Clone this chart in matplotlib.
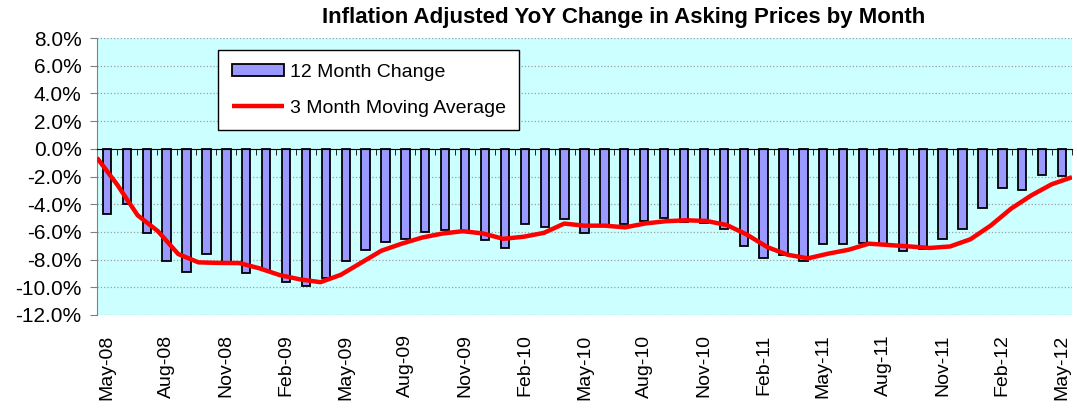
import numpy as np
import matplotlib
matplotlib.use("Agg")
import matplotlib.pyplot as plt
from matplotlib.ticker import FuncFormatter, MultipleLocator

plt.rcParams['font.family'] = ['Liberation Sans', 'DejaVu Sans']

# month labels, May-08 .. May-12
months = ['May-08', 'Jun-08', 'Jul-08', 'Aug-08', 'Sep-08', 'Oct-08', 'Nov-08', 'Dec-08',
          'Jan-09', 'Feb-09', 'Mar-09', 'Apr-09', 'May-09', 'Jun-09', 'Jul-09', 'Aug-09',
          'Sep-09', 'Oct-09', 'Nov-09', 'Dec-09', 'Jan-10', 'Feb-10', 'Mar-10', 'Apr-10',
          'May-10', 'Jun-10', 'Jul-10', 'Aug-10', 'Sep-10', 'Oct-10', 'Nov-10', 'Dec-10',
          'Jan-11', 'Feb-11', 'Mar-11', 'Apr-11', 'May-11', 'Jun-11', 'Jul-11', 'Aug-11',
          'Sep-11', 'Oct-11', 'Nov-11', 'Dec-11', 'Jan-12', 'Feb-12', 'Mar-12', 'Apr-12',
          'May-12']

# 12 month change (%)
change_12m = [-4.73, -3.98, -6.11, -8.12, -8.92, -7.59, -8.20, -8.97, -8.73, -9.65, -9.92, -9.33,
              -8.07, -7.30, -6.72, -6.52, -5.99, -5.84, -5.94, -6.55, -7.15, -5.45, -5.62, -5.09,
              -6.06, -5.50, -5.45, -5.21, -5.02, -5.25, -5.36, -5.82, -7.00, -7.90, -7.70, -8.12,
              -6.88, -6.88, -6.80, -6.84, -7.39, -7.25, -6.52, -5.82, -4.29, -2.84, -2.96, -1.87,
              -1.99]

# 3 month moving average (%)
ma_3m = [-0.65, -2.60, -4.80, -5.95, -7.60, -8.20, -8.24, -8.25, -8.63, -9.12, -9.43, -9.63,
         -9.10, -8.23, -7.36, -6.85, -6.41, -6.12, -5.95, -6.11, -6.50, -6.35, -6.07, -5.40,
         -5.55, -5.55, -5.67, -5.39, -5.23, -5.16, -5.21, -5.50, -6.20, -7.10, -7.65, -7.91,
         -7.57, -7.29, -6.85, -6.95, -7.05, -7.16, -7.05, -6.53, -5.54, -4.32, -3.36, -2.56,
         -2.05]


def main():
    fig = plt.figure(figsize=(10.77, 4.08), dpi=100)
    ax = fig.add_axes([97 / 1077, 1 - 315 / 408, 975 / 1077, 277 / 408])
    ax.set_facecolor('#CCFFFF')

    x = np.arange(len(months))
    ax.bar(x, change_12m, width=0.42, color='#9999FF', edgecolor='black',
           linewidth=1.3, label='12 Month Change', zorder=3)
    ax.set_xlim(-0.5, len(months) - 0.5)
    ax.set_ylim(-12, 8)

    ax.yaxis.set_major_locator(MultipleLocator(2))
    ax.yaxis.set_major_formatter(FuncFormatter(lambda v, p: f"{v:.1f}%"))
    ax.yaxis.grid(True, linestyle=':', color='#A0A0A0', linewidth=0.9)
    ax.set_axisbelow(True)
    ax.tick_params(axis='y', labelsize=15, length=5, color='#808080', pad=6)

    for s in ['top', 'right']:
        ax.spines[s].set_visible(False)
    ax.spines['left'].set_color('#808080')
    # category axis crosses at zero
    ax.spines['bottom'].set_position(('data', 0))
    ax.spines['bottom'].set_color('black')
    ax.spines['bottom'].set_zorder(4)
    ax.set_xticks([])
    ax.set_xticks(np.arange(-0.5, len(months)), minor=True)
    ax.tick_params(axis='x', which='minor', length=4, color='black', direction='out')

    sec = ax.secondary_xaxis('bottom')
    sec.set_xticks(x[::3])
    sec.set_xticklabels(months[::3], rotation=90, fontsize=14)
    sec.tick_params(length=0, pad=14)
    sec.spines['bottom'].set_visible(False)

    # moving average on its own category axis (points on tick marks)
    ax_l = ax.twiny()
    ax_l.plot(x, ma_3m, color='#FF0000', linewidth=3.2, label='3 Month Moving Average',
              solid_joinstyle='round', solid_capstyle='butt')
    ax_l.set_xlim(0, len(months) - 1)
    ax_l.set_axis_off()

    h1, l1 = ax.get_legend_handles_labels()
    h2, l2 = ax_l.get_legend_handles_labels()
    leg = ax_l.legend(h1 + h2, l1 + l2, loc='upper left', bbox_to_anchor=(0.124, 0.955),
                      fontsize=14, frameon=True, fancybox=False, edgecolor='black',
                      framealpha=1, handlelength=2.7, handleheight=0.6, borderpad=0.7,
                      labelspacing=0.95, handletextpad=0.3, borderaxespad=0)
    leg.get_frame().set_linewidth(1)

    fig.text(624 / 1077, 1 - 7 / 408, 'Inflation Adjusted YoY Change in Asking Prices by Month',
             ha='center', va='top', fontsize=16, fontweight='bold')

    fig.savefig('out.png', dpi=100, facecolor='white')


if __name__ == "__main__":
    main()
